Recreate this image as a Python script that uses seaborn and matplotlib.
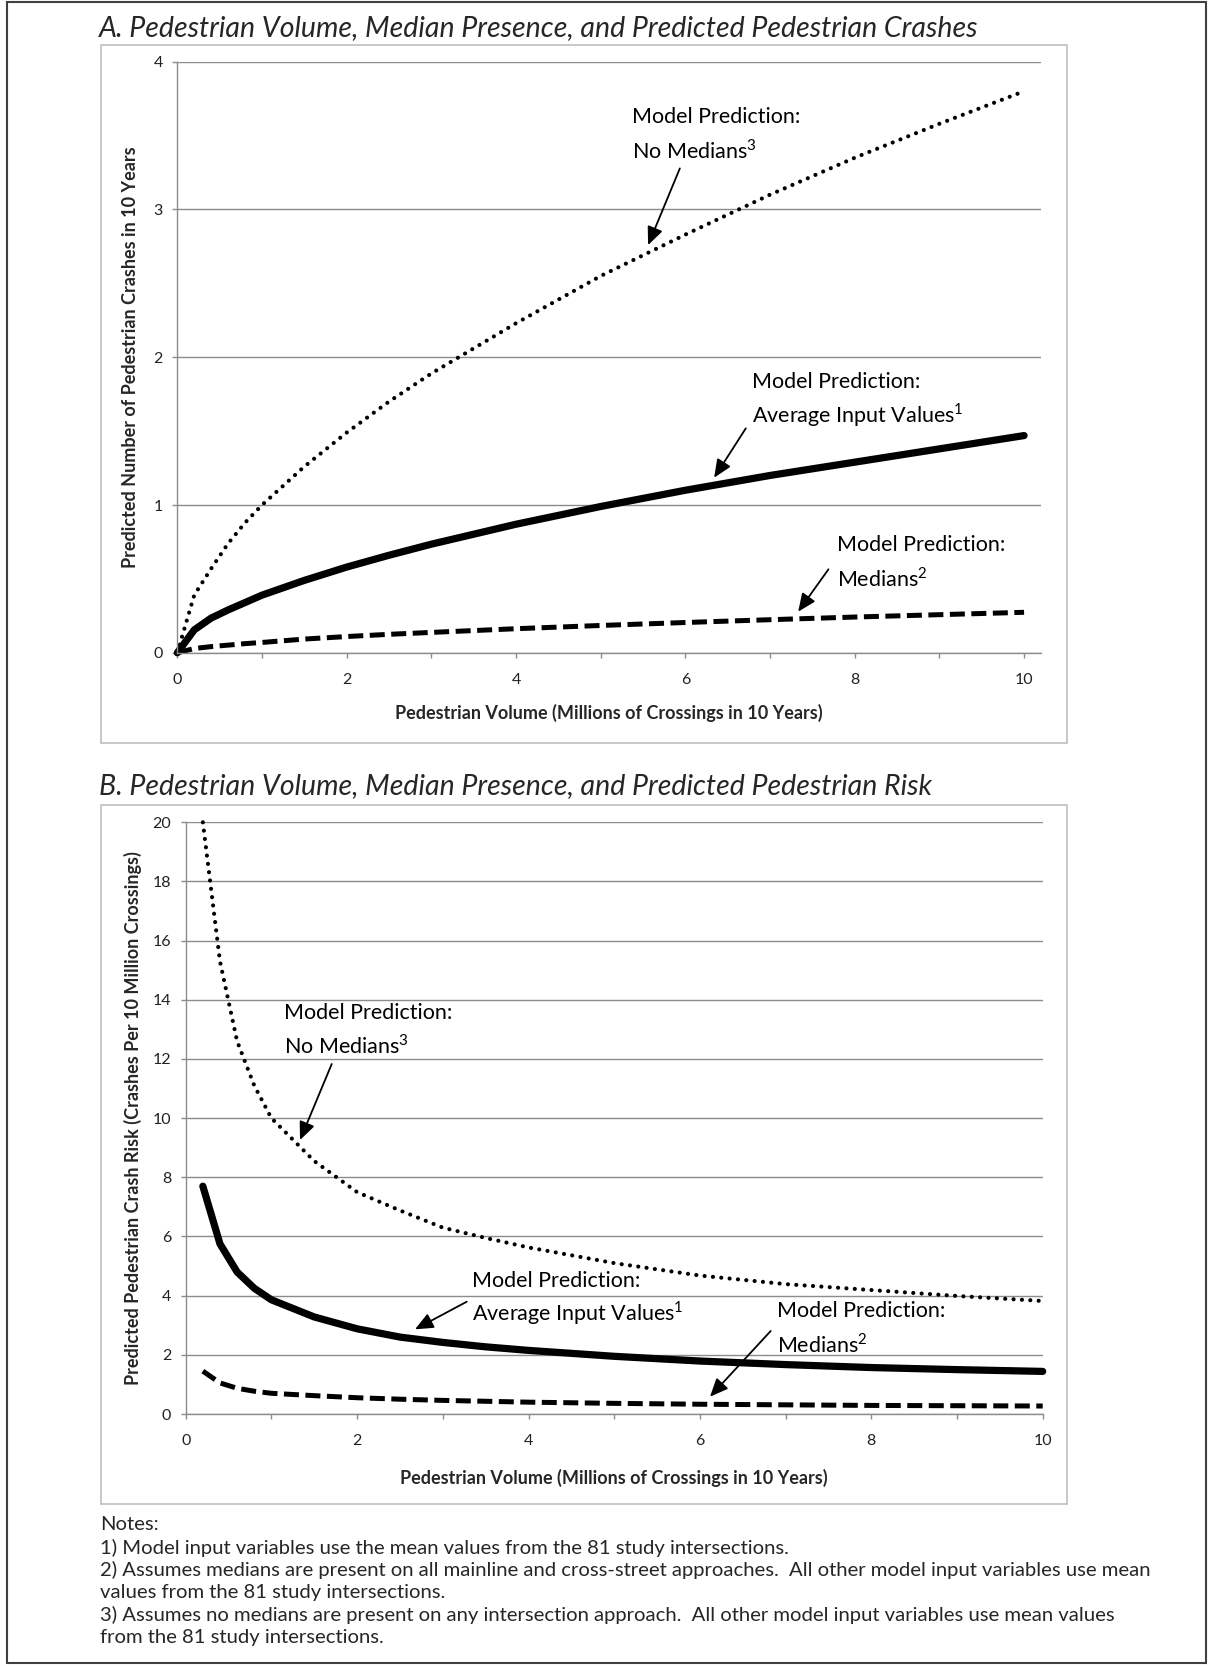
import numpy as np
import seaborn as sns
import matplotlib.pyplot as plt
from matplotlib.patches import Rectangle
from matplotlib.ticker import MultipleLocator

sns.set_theme(style='ticks')
plt.rcParams['font.family'] = ['Lato', 'DejaVu Sans']
plt.rcParams['mathtext.fontset'] = 'custom'
plt.rcParams['mathtext.rm'] = 'Lato'

W, H = 1209, 1666

# A. predicted crashes in 10 years
volume = [0, 0.2, 0.4, 0.6, 0.8, 1, 1.5, 2, 2.5, 3, 4, 5, 6, 7, 8, 9, 10]
crash_no_median = [0, 0.39, 0.57, 0.74, 0.88, 1.0, 1.26, 1.49, 1.70, 1.89, 2.23, 2.55, 2.83, 3.10, 3.35, 3.58, 3.80]
crash_average = [0, 0.155, 0.235, 0.29, 0.34, 0.39, 0.49, 0.58, 0.66, 0.735, 0.87, 0.99, 1.10, 1.20, 1.29, 1.38, 1.47]
crash_median = [0, 0.029, 0.042, 0.052, 0.062, 0.070, 0.093, 0.11, 0.125, 0.138, 0.163, 0.185, 0.205, 0.224, 0.242, 0.258, 0.274]

# B. predicted risk (crashes per 10 million crossings)
risk_volume = [0.2, 0.4, 0.6, 0.8, 1, 1.5, 2, 2.5, 3, 3.5, 4, 5, 6, 7, 8, 9, 10]
risk_no_median = [20.0, 15.3, 12.6, 11.1, 10.0, 8.55, 7.5, 6.88, 6.3, 5.95, 5.63, 5.1, 4.68, 4.39, 4.19, 3.99, 3.82]
risk_average = [7.7, 5.75, 4.8, 4.25, 3.86, 3.28, 2.88, 2.6, 2.42, 2.27, 2.15, 1.95, 1.79, 1.67, 1.57, 1.5, 1.44]
risk_median = [1.45, 1.05, 0.87, 0.77, 0.70, 0.62, 0.55, 0.5, 0.46, 0.43, 0.40, 0.36, 0.33, 0.31, 0.29, 0.28, 0.27]

notes = [
    'Notes:',
    '1) Model input variables use the mean values from the 81 study intersections.',
    '2) Assumes medians are present on all mainline and cross-street approaches.  All other model input variables use mean',
    'values from the 81 study intersections.',
    '3) Assumes no medians are present on any intersection approach.  All other model input variables use mean values',
    'from the 81 study intersections.',
]

GRID = '#8c8c8c'


def fx(x):
    return x / W


def fy(y):
    return 1 - y / H


def box(fig, x0, y0, x1, y1, color, lw):
    fig.add_artist(Rectangle((fx(x0), fy(y1)), fx(x1) - fx(x0), fy(y0) - fy(y1),
                             transform=fig.transFigure, fill=False, ec=color, lw=lw))


def style_axes(ax, xmax, ymax, ystep):
    ax.set_xlim(0, xmax)
    ax.set_ylim(0, ymax)
    ax.set_yticks(np.arange(0, ymax + ystep / 2, ystep))
    ax.xaxis.set_major_locator(MultipleLocator(2))
    ax.xaxis.set_minor_locator(MultipleLocator(1))
    ax.grid(axis='y', color=GRID, lw=1.0)
    sns.despine(ax=ax)
    for s in ['left', 'bottom']:
        ax.spines[s].set_color(GRID)
        ax.spines[s].set_linewidth(1.0)
    ax.tick_params(which='both', direction='out', length=3.5, width=1.0, color=GRID,
                   labelsize=11.5, labelcolor='#222222')
    ax.tick_params(axis='x', which='both', pad=11)
    ax.tick_params(axis='y', pad=7)


def draw_lines(ax, x, dotted, solid, dashed):
    sns.lineplot(x=x, y=dotted, ax=ax, color='black', lw=3.0, linestyle=(0, (0.01, 2.0)),
                 dash_capstyle='round', clip_on=False)
    sns.lineplot(x=x, y=solid, ax=ax, color='black', lw=5.2, solid_capstyle='round',
                 solid_joinstyle='round', clip_on=False)
    sns.lineplot(x=x, y=dashed, ax=ax, color='black', lw=3.6, linestyle=(0, (3.0, 1.3)),
                 clip_on=False)


def label(ax, x, y, gap, line1, line2, tail, tip):
    ax.text(x, y, line1, fontsize=15.5, ha='left', va='center', color='black')
    ax.text(x, y - gap, line2, fontsize=15.5, ha='left', va='center', color='black')
    ax.annotate('', xy=tip, xytext=tail,
                arrowprops=dict(arrowstyle='-|>,head_length=0.55,head_width=0.24',
                                color='black', lw=1.3, shrinkA=0, shrinkB=0,
                                mutation_scale=20))


fig = plt.figure(figsize=(W / 100, H / 100), dpi=100)

# outer frame and chart boxes
box(fig, 6.5, 2, 1206, 1663, '#404040', 1.5)
box(fig, 101, 45, 1067, 743, '#bfbfbf', 1.2)
box(fig, 101, 805, 1067, 1504, '#bfbfbf', 1.2)

xlabel = 'Pedestrian Volume (Millions of Crossings in 10 Years)'

# ---- chart A
ax1 = fig.add_axes([fx(177.3), fy(652.8), fx(1041) - fx(177.3), fy(61.7) - fy(652.8)])
draw_lines(ax1, volume, crash_no_median, crash_average, crash_median)
style_axes(ax1, 10.2, 4, 1)
ax1.set_xlabel(xlabel, fontsize=13, fontweight='bold')
ax1.set_ylabel('Predicted Number of Pedestrian Crashes in 10 Years', fontsize=13, fontweight='bold')
ax1.xaxis.set_label_coords(0.5, -0.1024)
ax1.xaxis.label.set_va('center')
ax1.yaxis.set_label_coords(-0.0542, 0.5)
ax1.yaxis.label.set_va('center')

label(ax1, 5.37, 3.627, 0.225, 'Model Prediction:', r'No Medians$^{3}$', (5.935, 3.278), (5.56, 2.759))
label(ax1, 6.79, 1.834, 0.225, 'Model Prediction:', r'Average Input Values$^{1}$', (6.714, 1.519), (6.34, 1.185))
label(ax1, 7.785, 0.729, 0.225, 'Model Prediction:', r'Medians$^{2}$', (7.69, 0.565), (7.332, 0.278))

fig.text(fx(99), fy(28), 'A. Pedestrian Volume, Median Presence, and Predicted Pedestrian Crashes',
         fontsize=20.5, style='italic', ha='left', va='center')

# ---- chart B
ax2 = fig.add_axes([fx(185.7), fy(1414), fx(1042.7) - fx(185.7), fy(822.3) - fy(1414)])
draw_lines(ax2, risk_volume, risk_no_median, risk_average, risk_median)
style_axes(ax2, 10, 20, 2)
ax2.set_xlabel(xlabel, fontsize=13, fontweight='bold')
ax2.set_ylabel('Predicted Pedestrian Crash Risk (Crashes Per 10 Million Crossings)', fontsize=13, fontweight='bold')
ax2.xaxis.set_label_coords(0.5, (1414 - 1478) / 591.7)
ax2.xaxis.label.set_va('center')
ax2.yaxis.set_label_coords((133 - 185.7) / 857, 0.5)
ax2.yaxis.label.set_va('center')

label(ax2, 1.150, 13.56, 1.09, 'Model Prediction:', r'No Medians$^{3}$', (1.704, 11.83), (1.334, 9.26))
label(ax2, 3.344, 4.495, 1.09, 'Model Prediction:', r'Average Input Values$^{1}$', (3.279, 3.795), (2.676, 2.862))
label(ax2, 6.896, 3.491, 1.16, 'Model Prediction:', r'Medians$^{2}$', (6.826, 2.805), (6.118, 0.585))

fig.text(fx(99), fy(786), 'B. Pedestrian Volume, Median Presence, and Predicted Pedestrian Risk',
         fontsize=20.5, style='italic', ha='left', va='center')

# ---- notes
for i, line in enumerate(notes):
    fig.text(fx(100), fy(1525 + 22.5 * i), line, fontsize=14.6, ha='left', va='center')

fig.savefig('out.png', dpi=100)
